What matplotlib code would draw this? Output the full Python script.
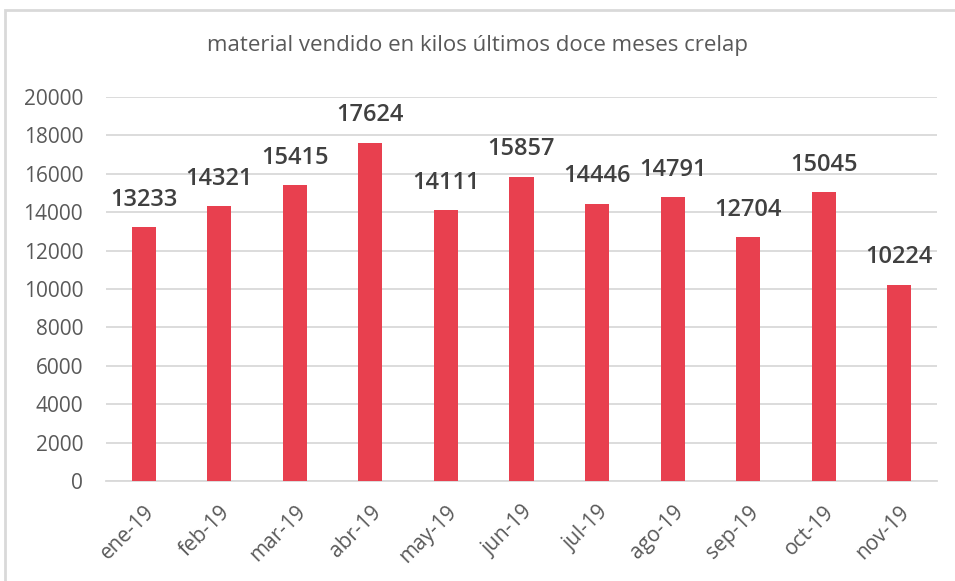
import matplotlib
matplotlib.use("Agg")
import matplotlib.pyplot as plt
from matplotlib.patches import Rectangle

months = ["ene-19", "feb-19", "mar-19", "abr-19", "may-19", "jun-19",
          "jul-19", "ago-19", "sep-19", "oct-19", "nov-19"]
kilos = [13233, 14321, 15415, 17624, 14111, 15857, 14446, 14791, 12704, 15045, 10224]
yticks = [0, 2000, 4000, 6000, 8000, 10000, 12000, 14000, 16000, 18000, 20000]
title = "material vendido en kilos últimos doce meses crelap"

plt.rcParams['font.family'] = ['Open Sans', 'DejaVu Sans']

W, H = 955, 581
fig = plt.figure(figsize=(W / 100, H / 100), dpi=100)
fig.patch.set_facecolor("white")

# outer chart border
fig.patches.append(Rectangle((5 / W, -0.05), 1.0, (H - 10) / H + 0.05,
                             transform=fig.transFigure, fill=False,
                             edgecolor="#d9d9d9", linewidth=2))

ax = fig.add_axes([106 / W, (H - 481) / H, (937 - 106) / W, (481 - 97) / H])
x = list(range(len(months)))
ax.bar(x, kilos, width=0.32, color="#E8404F", zorder=3)
ax.set_xlim(-0.5, len(months) - 0.5)
ax.set_ylim(0, 20000)
ax.set_yticks(yticks)
ax.set_yticklabels([str(v) for v in yticks])
ax.set_xticks(x)
ax.set_xticklabels(months, rotation=45, ha="right", rotation_mode="anchor")
ax.tick_params(axis="both", length=0, labelsize=15, colors="#595959")
ax.tick_params(axis="y", pad=16.5)
ax.tick_params(axis="x", pad=15)
ax.grid(axis="y", color="#d9d9d9", linewidth=1.3, zorder=0)
for s in ["top", "right", "left"]:
    ax.spines[s].set_visible(False)
ax.spines["bottom"].set_color("#d9d9d9")
ax.spines["bottom"].set_linewidth(1.3)

for xi, v in zip(x, kilos):
    ax.annotate(str(v), (xi, v), xytext=(0, 11), textcoords="offset points",
                ha="center", va="bottom", fontsize=17, color="#404040",
                fontweight="semibold")

fig.text(0.5, (H - 45) / H, title, ha="center", va="center",
         fontsize=16, color="#595959")

fig.savefig("out.png", dpi=100)
